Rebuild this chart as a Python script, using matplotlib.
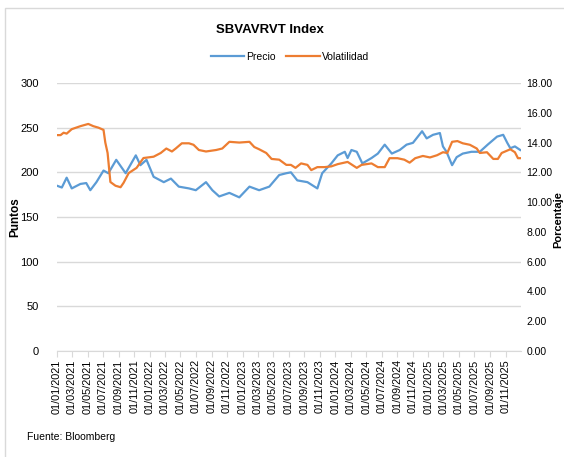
import matplotlib
matplotlib.use("Agg")
import matplotlib.pyplot as plt
import matplotlib.dates as mdates
from matplotlib.patches import Rectangle
from matplotlib.lines import Line2D
import pandas as pd

price_dates = ["2021-01-01", "2021-01-20", "2021-02-08", "2021-02-28", "2021-04-03", "2021-04-26",
               "2021-05-12", "2021-06-05", "2021-07-03", "2021-07-22", "2021-08-22", "2021-09-28",
               "2021-11-07", "2021-11-25", "2021-12-19", "2022-01-16", "2022-02-25", "2022-03-25",
               "2022-04-25", "2022-06-04", "2022-07-01", "2022-08-10", "2022-09-04", "2022-10-01",
               "2022-11-10", "2022-12-19", "2023-01-28", "2023-03-07", "2023-04-16", "2023-05-25",
               "2023-06-22", "2023-07-10", "2023-08-04", "2023-09-13", "2023-10-22", "2023-11-10",
               "2023-12-16", "2024-01-10", "2024-02-07", "2024-02-18", "2024-03-04", "2024-03-25",
               "2024-04-16", "2024-05-22", "2024-06-16", "2024-07-13", "2024-08-10", "2024-09-10",
               "2024-10-07", "2024-11-01", "2024-12-07", "2024-12-25", "2025-01-19", "2025-02-15",
               "2025-02-27", "2025-03-13", "2025-04-04", "2025-04-22", "2025-05-16", "2025-06-19",
               "2025-07-22", "2025-08-22", "2025-09-28", "2025-10-22", "2025-11-07", "2025-11-19",
               "2025-12-07", "2025-12-28"]
precio = [185, 183, 194, 182, 187, 188,
          180, 189, 202, 199, 214, 199,
          219, 208, 214, 195, 189, 193,
          184, 182, 180, 189, 180, 173,
          177, 172, 184, 180, 184, 197,
          199, 200, 191, 189, 182, 199,
          210, 219, 223, 216, 225, 223,
          210, 216, 221, 231, 221, 225,
          231, 233, 246, 238, 242, 244,
          229, 223, 208, 217, 221, 223,
          223, 231, 240, 242, 233, 227,
          229, 225]

vol_dates = ["2021-01-01", "2021-01-15", "2021-01-27", "2021-02-08", "2021-02-28", "2021-04-03",
             "2021-05-04", "2021-05-24", "2021-06-13", "2021-07-03", "2021-07-10", "2021-07-19",
             "2021-07-30", "2021-08-19", "2021-09-08", "2021-09-20", "2021-10-10", "2021-11-10",
             "2021-12-07", "2022-01-16", "2022-02-13", "2022-03-07", "2022-03-29", "2022-04-13",
             "2022-05-07", "2022-06-04", "2022-06-22", "2022-07-13", "2022-08-10", "2022-09-19",
             "2022-10-13", "2022-11-10", "2022-12-19", "2023-01-28", "2023-02-16", "2023-03-07",
             "2023-04-04", "2023-04-25", "2023-05-25", "2023-06-22", "2023-07-10", "2023-07-28",
             "2023-08-19", "2023-09-13", "2023-09-28", "2023-10-22", "2023-11-19", "2023-12-16",
             "2024-01-10", "2024-02-18", "2024-03-25", "2024-04-13", "2024-05-22", "2024-06-16",
             "2024-07-13", "2024-08-01", "2024-09-01", "2024-09-28", "2024-10-19", "2024-11-10",
             "2024-12-10", "2025-01-07", "2025-02-04", "2025-02-27", "2025-03-16", "2025-04-04",
             "2025-04-25", "2025-05-16", "2025-06-13", "2025-07-10", "2025-07-22", "2025-08-19",
             "2025-09-13", "2025-10-01", "2025-10-16", "2025-11-19", "2025-12-07", "2025-12-19",
             "2025-12-28"]
volatilidad = [14.5, 14.5, 14.66, 14.6, 14.9, 15.1,
               15.25, 15.1, 15.0, 14.85, 14.0, 13.3,
               11.35, 11.1, 11.0, 11.3, 11.95, 12.3,
               12.96, 13.05, 13.3, 13.6, 13.4, 13.6,
               13.95, 13.95, 13.85, 13.5, 13.4, 13.5,
               13.6, 14.05, 14.0, 14.05, 13.7, 13.55,
               13.3, 12.9, 12.85, 12.5, 12.5, 12.3,
               12.6, 12.5, 12.15, 12.35, 12.35, 12.4,
               12.55, 12.7, 12.3, 12.5, 12.6, 12.35,
               12.35, 12.95, 12.95, 12.85, 12.65, 12.95,
               13.1, 13.0, 13.15, 13.35, 13.3, 14.05,
               14.1, 13.95, 13.85, 13.6, 13.3, 13.35,
               12.9, 12.9, 13.3, 13.55, 13.35, 12.95,
               12.95]

left_ticks = [0, 50, 100, 150, 200, 250, 300]
right_ticks = [0, 2, 4, 6, 8, 10, 12, 14, 16, 18]

FAM = ["Liberation Sans", "DejaVu Sans"]

W, H = 564, 457
fig = plt.figure(figsize=(W / 100, H / 100), dpi=100)
fig.patch.set_facecolor("white")

# outer chart frame
fig.patches.append(Rectangle((5 / W, -0.05), 1.2, 1 - 8 / H + 0.05, transform=fig.transFigure,
                             fill=False, edgecolor="#d9d9d9", linewidth=1.0))

ax = fig.add_axes([57 / W, 1 - 351 / H, (521 - 57) / W, (351 - 83) / H])
ax2 = ax.twinx()

pd_ = pd.to_datetime(price_dates)
vd_ = pd.to_datetime(vol_dates)

ax.plot(pd_, precio, color="#5b9bd5", lw=1.6, zorder=3)
ax2.plot(vd_, volatilidad, color="#ed7d31", lw=1.6, zorder=3)

ax.set_ylim(0, 300)
ax2.set_ylim(0, 18)
ax.set_yticks(left_ticks)
ax2.set_yticks(right_ticks)
ax2.set_yticklabels([f"{v:.2f}" for v in right_ticks])
ax.set_xlim(pd.Timestamp("2021-01-01"), pd.Timestamp("2025-12-31"))

ax.yaxis.grid(True, color="#d9d9d9", lw=1.0)
ax.set_axisbelow(True)
for a in (ax, ax2):
    for s in ("top", "left", "right"):
        a.spines[s].set_visible(False)
ax.spines["bottom"].set_color("#d9d9d9")
ax2.spines["bottom"].set_visible(False)

ax.tick_params(axis="y", length=0, pad=13, labelsize=8, labelcolor="#000000")
ax2.tick_params(axis="y", length=0, pad=4, labelsize=7.5, labelcolor="#000000")
for lab in ax.get_yticklabels() + ax2.get_yticklabels():
    lab.set_fontfamily(FAM)

ax.xaxis.set_major_locator(mdates.MonthLocator(bymonth=[1, 3, 5, 7, 9, 11]))
ax.xaxis.set_major_formatter(mdates.DateFormatter("%d/%m/%Y"))
ax.tick_params(axis="x", length=4, color="#d9d9d9", rotation=90, labelsize=7.8, pad=2)
for lab in ax.get_xticklabels():
    lab.set_fontfamily(FAM)

ax.set_ylabel("Puntos", fontsize=8.5, fontweight="bold", family=FAM)
ax.yaxis.set_label_coords(-(57 - 21) / (521 - 57), 0.5)
ax2.set_ylabel("Porcentaje", fontsize=8, fontweight="bold", family=FAM)
ax2.yaxis.set_label_coords((553 - 57) / (521 - 57), 0.49)

fig.text(270 / W, 1 - 30 / H, "SBVAVRVT Index", ha="center", va="center",
         fontsize=9.5, fontweight="bold", family=FAM)

handles = [Line2D([], [], color="#5b9bd5", lw=1.6), Line2D([], [], color="#ed7d31", lw=1.6)]
fig.legend(handles, ["Precio", "Volatilidad"], loc="center", bbox_to_anchor=(290 / W, 1 - 57 / H),
           ncol=2, frameon=False, prop={"family": FAM, "size": 7.5},
           handlelength=3.2, handletextpad=0.2, columnspacing=1.0)

fig.text(27 / W, 1 - 437 / H, "Fuente: Bloomberg", ha="left", va="center",
         fontsize=7.5, family=FAM)

fig.savefig("out.png", dpi=100, facecolor="white")
